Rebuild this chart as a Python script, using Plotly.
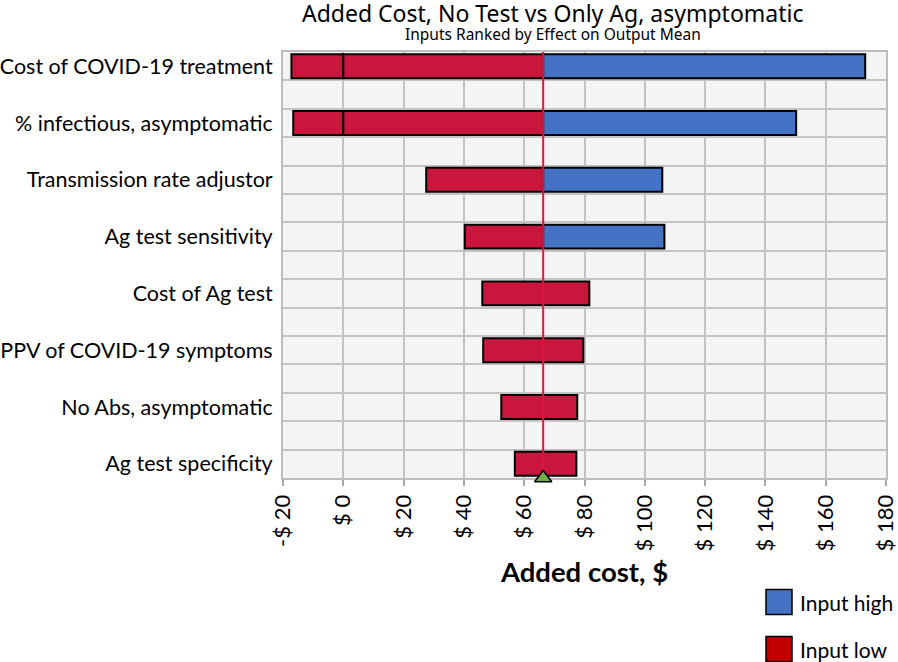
import plotly.graph_objects as go

# ---- data ----
labels = ["Cost of COVID-19 treatment", "% infectious, asymptomatic",
          "Transmission rate adjustor", "Ag test sensitivity",
          "Cost of Ag test", "PPV of COVID-19 symptoms",
          "No Abs, asymptomatic", "Ag test specificity"]
left_end = [-17.2, -16.6, 27.5, 40.3, 46.1, 46.4, 52.4, 56.9]
right_end = [173.1, 150.2, 105.8, 106.5, 81.6, 79.6, 77.6, 77.3]
right_is_high = [True, True, True, True, False, False, False, False]
output_mean = 66.3
tick_vals = [-20, 0, 20, 40, 60, 80, 100, 120, 140, 160, 180]
tick_text = ["-$ 20", "$ 0", "$ 20", "$ 40", "$ 60", "$ 80", "$ 100",
             "$ 120", "$ 140", "$ 160", "$ 180"]

RED = "#c9163c"
BLUE = "#4472c4"
GRID = "#c3c3c3"
FONT = "Lato"

ypos = list(range(len(labels)))
y_top, y_bottom = -0.25, len(labels) - 0.75

# build red (low) and blue (high) segments from the data
red_y, red_base, red_len = [], [], []
blue_y, blue_base, blue_len = [], [], []
for i, (l, r, hi) in enumerate(zip(left_end, right_end, right_is_high)):
    red_stop = output_mean if hi else r
    # split the red bar at zero as in the original
    if l < 0 < red_stop:
        red_y += [i, i]
        red_base += [l, 0]
        red_len += [0 - l, red_stop]
    else:
        red_y.append(i)
        red_base.append(l)
        red_len.append(red_stop - l)
    if hi:
        blue_y.append(i)
        blue_base.append(output_mean)
        blue_len.append(r - output_mean)

fig = go.Figure()
fig.add_trace(go.Bar(
    y=red_y, x=red_len, base=red_base, orientation="h", width=0.42,
    marker=dict(color=RED, line=dict(color="black", width=2)),
    name="Input low", showlegend=False, hoverinfo="skip"))
fig.add_trace(go.Bar(
    y=blue_y, x=blue_len, base=blue_base, orientation="h", width=0.42,
    marker=dict(color=BLUE, line=dict(color="black", width=2)),
    name="Input high", showlegend=False, hoverinfo="skip"))

# mean line
fig.add_trace(go.Scatter(
    x=[output_mean, output_mean], y=[y_top, y_bottom], mode="lines",
    line=dict(color="#e0163f", width=2),
    showlegend=False, hoverinfo="skip"))
# mean marker on the axis
fig.add_trace(go.Scatter(
    x=[output_mean], y=[y_bottom], mode="markers",
    marker=dict(symbol="triangle-up", size=15, color="#70ad47",
                line=dict(color="black", width=1.5)),
    cliponaxis=False, showlegend=False, hoverinfo="skip"))

fig.update_layout(
    width=898, height=662,
    margin=dict(l=283, r=12, t=52, b=184, autoexpand=False),
    paper_bgcolor="white", plot_bgcolor="#f4f4f4",
    barmode="overlay", showlegend=False,
    font=dict(family=FONT, color="black"),
    xaxis=dict(range=[-20, 180], tickvals=tick_vals, ticktext=tick_text,
               tickangle=-90, tickfont=dict(size=22, family=FONT),
               automargin=False, ticklabeloverflow="allow",
               layer="below traces",
               showgrid=True, gridcolor=GRID, gridwidth=2,
               showline=True, linecolor="#bdbdbd", linewidth=2, mirror=True,
               ticks="outside", ticklen=6, tickcolor="#a6a6a6", tickwidth=2,
               zeroline=False,
               title=dict(text="<b>Added cost, $</b>",
                          font=dict(size=27.5, family=FONT), standoff=12)),
    yaxis=dict(range=[y_bottom, y_top], tickvals=ypos,
               ticktext=labels, tickfont=dict(size=21.5, family=FONT),
               automargin=False,
               showgrid=False, zeroline=False, ticks="", ticklabelstandoff=4,
               showline=True, linecolor="#bdbdbd", linewidth=2, mirror=True,
               minor=dict(tickvals=[k + 0.25 for k in range(-1, len(labels))]
                          + [k + 0.75 for k in range(-1, len(labels))],
                          showgrid=True, gridcolor=GRID, gridwidth=2,
                          ticks="")),
)

# titles
fig.add_annotation(text="Added Cost, No Test vs Only Ag, asymptomatic",
                   xref="paper", yref="paper", x=0.447, y=1.0, yshift=39,
                   showarrow=False, xanchor="center", yanchor="middle",
                   font=dict(size=23, family="Noto Sans"))
fig.add_annotation(text="Inputs Ranked by Effect on Output Mean",
                   xref="paper", yref="paper", x=0.447, y=1.0, yshift=18,
                   showarrow=False, xanchor="center", yanchor="middle",
                   font=dict(size=15.5, family="Noto Sans"))

# legend (drawn as layout items)
legend_items = [("Input high", BLUE, 602), ("Input low", "#c00000", 649)]
for name, col, py in legend_items:
    yc = (478 - py) / 426
    fig.add_shape(type="rect", xref="paper", yref="paper",
                  x0=(766 - 283) / 603, x1=(792 - 283) / 603,
                  y0=yc - 12.5 / 426, y1=yc + 12.5 / 426,
                  fillcolor=col, line=dict(color="black", width=1.5))
    fig.add_annotation(text=name, xref="paper", yref="paper",
                       x=(798 - 283) / 603, y=yc, xanchor="left",
                       yanchor="middle", showarrow=False,
                       font=dict(size=21, family=FONT))

fig.write_html("out.html", config={"displayModeBar": False},
               post_script="document.body.style.margin='0';")
